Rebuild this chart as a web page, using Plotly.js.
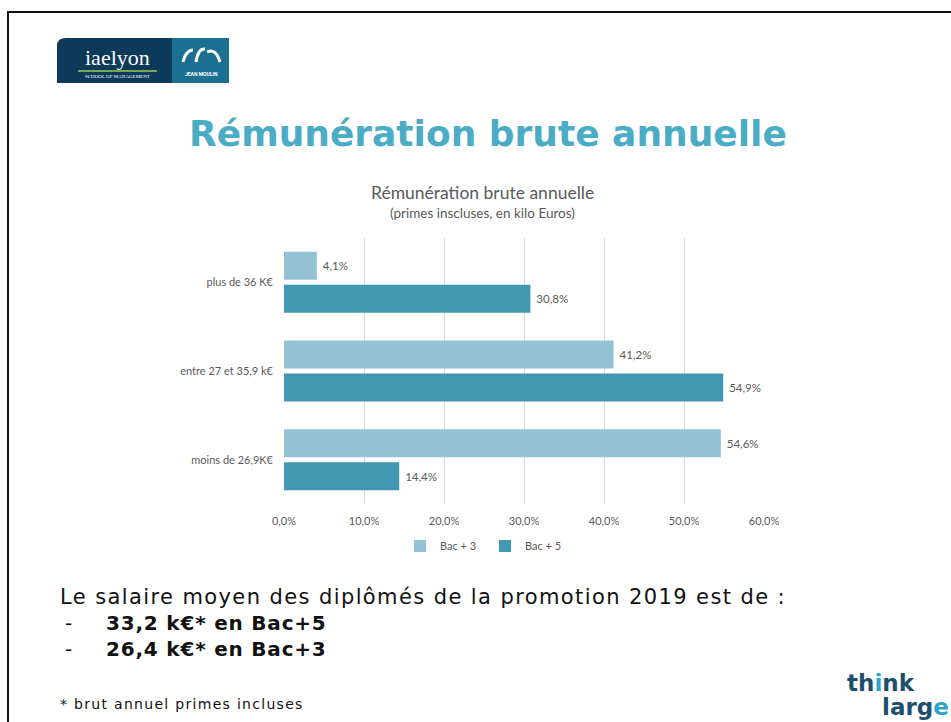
<!DOCTYPE html>
<html>
<head>
<meta charset="utf-8">
<script src="https://cdn.plot.ly/plotly-3.0.1.min.js"></script>
<style>
html,body{margin:0;padding:0;background:#fff;}
#chart{width:951px;height:722px;}
#chart .annotation[data-index="6"] text{letter-spacing:1.4px;}
#chart .annotation[data-index="9"] text,
#chart .annotation[data-index="10"] text{letter-spacing:0.8px;}
#chart .annotation[data-index="11"] text{letter-spacing:1.3px;}
</style>
</head>
<body>
<div id="chart"></div>
<script>
// ---- data ----
const categories = ['plus de 36 K€', 'entre 27 et 35,9 k€', 'moins de 26,9K€'];
const seriesNames = ['Bac + 3', 'Bac + 5'];
const bac3 = [4.1, 41.2, 54.6];
const bac5 = [30.8, 54.9, 14.4];
const xTicks = [0, 10, 20, 30, 40, 50, 60];
const chartTitle = 'Rémunération brute annuelle';
const chartSubtitle = '(primes inscluses, en kilo Euros)';
const slideTitle = 'Rémunération brute annuelle';
const bodyLine = 'Le salaire moyen des diplômés de la promotion 2019 est de :';
const bullets = ['33,2 k€* en Bac+5', '26,4 k€* en Bac+3'];
const footnote = '* brut annuel primes incluses';

// ---- geometry helpers (pixel -> paper) ----
const W = 951, H = 722;
const M = {l: 284, r: 187, t: 238, b: 218};
const PW = W - M.l - M.r, PH = H - M.t - M.b;
const X = px => (px - M.l) / PW;
const Y = py => (H - M.b - py) / PH;

const fmt = v => v.toFixed(1).replace('.', ',') + '%';
const C3 = '#92c2d4', C5 = '#4298b0';
const grey = '#595959';
const chartFont = 'Lato, "Open Sans", sans-serif';

const traces = [
  {type: 'bar', orientation: 'h', name: seriesNames[0], y: categories, x: bac3,
   marker: {color: C3}, text: bac3.map(v => '\u00a0' + fmt(v)), textposition: 'outside',
   textfont: {size: 11.5, color: grey, family: chartFont}, cliponaxis: false, hoverinfo: 'none'},
  {type: 'bar', orientation: 'h', name: seriesNames[1], y: categories, x: bac5,
   marker: {color: C5}, text: bac5.map(v => '\u00a0' + fmt(v)), textposition: 'outside',
   textfont: {size: 11.5, color: grey, family: chartFont}, cliponaxis: false, hoverinfo: 'none'}
];

const shapes = [
  // slide frame
  {type: 'rect', xref: 'paper', yref: 'paper', x0: X(8), x1: X(960), y0: Y(12), y1: Y(735),
   line: {color: '#111', width: 2}, layer: 'below'},
  // logo navy part
  {type: 'path', xref: 'paper', yref: 'paper',
   path: `M ${X(57)} ${Y(83)} L ${X(57)} ${Y(46)} Q ${X(57)} ${Y(38)} ${X(66)} ${Y(38)} L ${X(172)} ${Y(38)} L ${X(172)} ${Y(83)} Z`,
   fillcolor: '#0d3a5a', line: {width: 0}},
  // logo teal part
  {type: 'rect', xref: 'paper', yref: 'paper', x0: X(172), x1: X(229), y0: Y(83), y1: Y(38),
   fillcolor: '#1b6f90', line: {width: 0}},
  // green underline
  {type: 'line', xref: 'paper', yref: 'paper', x0: X(78), x1: X(157), y0: Y(71), y1: Y(71),
   line: {color: '#9ccc4c', width: 1.5}},
  // arcs of Jean Moulin logo
  {type: 'path', xref: 'paper', yref: 'paper',
   path: `M ${X(183)} ${Y(62)} Q ${X(186)} ${Y(50)} ${X(193)} ${Y(50)} M ${X(196)} ${Y(62)} Q ${X(198)} ${Y(48)} ${X(205)} ${Y(49)} M ${X(207)} ${Y(52)} Q ${X(216)} ${Y(48)} ${X(220)} ${Y(62)}`,
   line: {color: '#ffffff', width: 3}}
];

const ann = (text, px, py, opts) => Object.assign({
  text, xref: 'paper', yref: 'paper', x: X(px), y: Y(py), showarrow: false,
  xanchor: 'left', yanchor: 'middle', align: 'left'
}, opts || {});

const bodyFont = '"DejaVu Sans", Verdana, sans-serif';
const annotations = [
  ann('iaelyon', 117, 57, {xanchor: 'center', align: 'center', font: {family: '"Liberation Serif", serif', size: 22, color: '#ffffff'}}),
  ann('SCHOOL OF MANAGEMENT', 117, 77, {xanchor: 'center', align: 'center', font: {family: '"Liberation Serif", serif', size: 5, color: '#ffffff'}}),
  ann('<b>JEAN MOULIN</b>', 201, 74, {xanchor: 'center', align: 'center', font: {family: 'Roboto, sans-serif', size: 5, color: '#ffffff'}}),
  ann('<b>' + slideTitle + '</b>', 488, 133, {xanchor: 'center', align: 'center', font: {family: bodyFont, size: 36, color: '#4bacc6'}}),
  ann(chartTitle, 482, 192, {xanchor: 'center', align: 'center', font: {family: chartFont, size: 17.5, color: grey}}),
  ann(chartSubtitle, 482, 213, {xanchor: 'center', align: 'center', font: {family: chartFont, size: 13.5, color: grey}}),
  ann(bodyLine, 58, 597, {font: {family: bodyFont, size: 21, color: '#111'}}),
  ann('-', 63, 623, {font: {family: bodyFont, size: 20, color: '#111'}}),
  ann('-', 63, 649, {font: {family: bodyFont, size: 20, color: '#111'}}),
  ann('<b>' + bullets[0] + '</b>', 104, 623, {font: {family: bodyFont, size: 20, color: '#111'}}),
  ann('<b>' + bullets[1] + '</b>', 104, 649, {font: {family: bodyFont, size: 20, color: '#111'}}),
  ann(footnote, 58, 704, {font: {family: bodyFont, size: 14, color: '#111'}}),
  ann('<b>th<span style="color:#2aa3cf">i</span>nk</b>', 845, 683, {font: {family: bodyFont, size: 23, color: '#1c4f6e'}}),
  ann('<b>larg<span style="color:#2aa3cf">e</span></b>', 880, 707, {font: {family: bodyFont, size: 23, color: '#1c4f6e'}})
];

const layout = {
  width: W, height: H,
  margin: Object.assign({autoexpand: false}, M),
  paper_bgcolor: '#ffffff', plot_bgcolor: '#ffffff',
  separators: ', ',
  barmode: 'group', bargap: 0.256, bargroupgap: 0.15,
  showlegend: true,
  legend: {orientation: 'h', x: X(400), xanchor: 'left', y: Y(546), yanchor: 'middle',
           font: {family: chartFont, size: 11, color: grey}, itemwidth: 30,
           entrywidth: 40, entrywidthmode: 'pixels'},
  xaxis: {range: [0, 60], tickmode: 'array', tickvals: xTicks, ticktext: xTicks.map(fmt),
          showgrid: true, gridcolor: '#d9d9d9', gridwidth: 1, zeroline: false, showline: false,
          ticks: '', ticklabelstandoff: 9,
          tickfont: {family: chartFont, size: 11, color: grey}, fixedrange: true},
  yaxis: {type: 'category', categoryorder: 'array', categoryarray: categories, autorange: 'reversed',
          showgrid: false, zeroline: false, showline: false, ticks: '', ticklabelstandoff: 10,
          tickfont: {family: chartFont, size: 11, color: grey}, fixedrange: true},
  shapes, annotations,
  font: {family: chartFont}
};

Plotly.newPlot('chart', traces, layout, {displayModeBar: false, staticPlot: true});
</script>
</body>
</html>
